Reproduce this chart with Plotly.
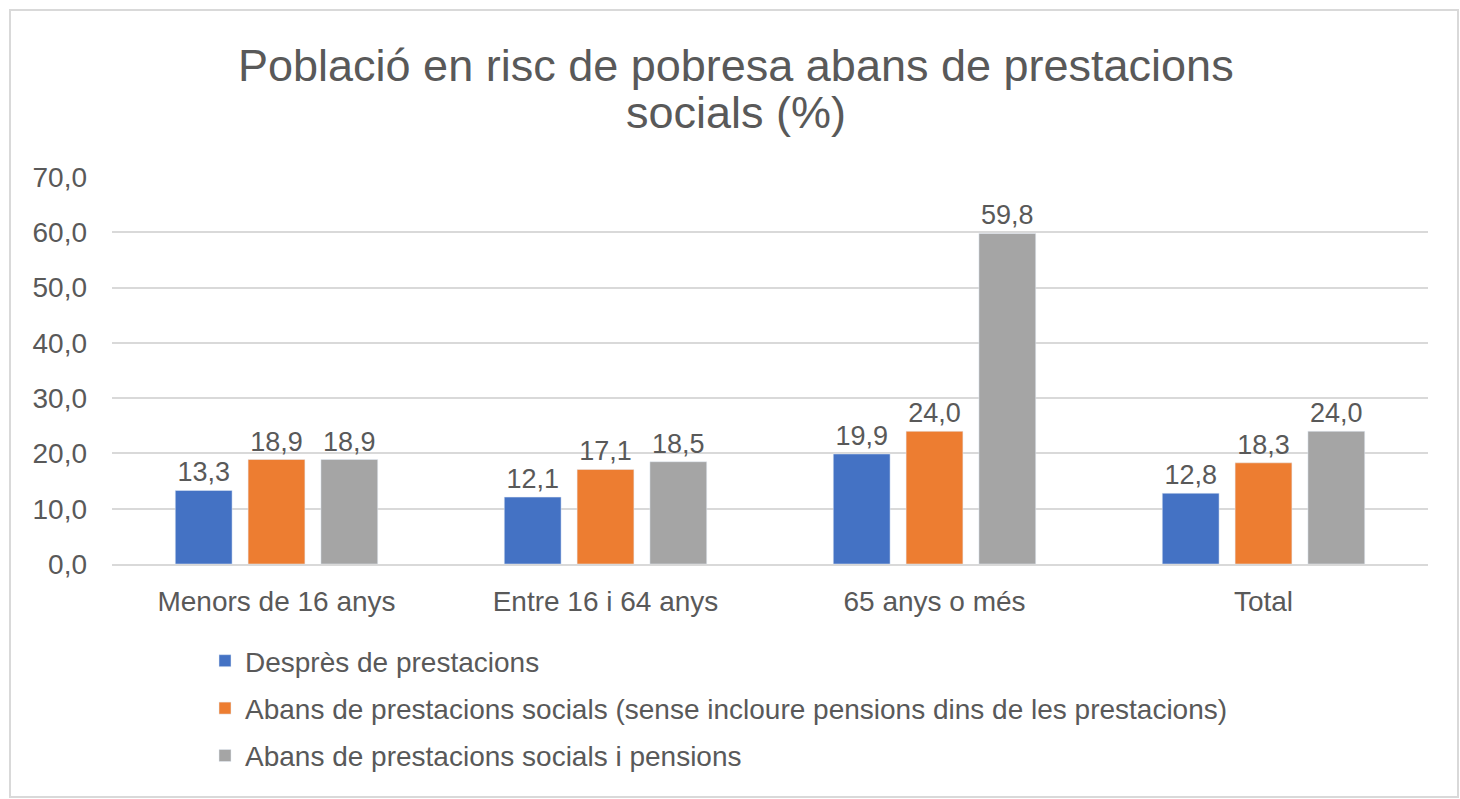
import plotly.graph_objects as go

categories = ["Menors de 16 anys", "Entre 16 i 64 anys", "65 anys o més", "Total"]
series_names = [
    "Desprès de prestacions",
    "Abans de prestacions socials (sense incloure pensions dins de les prestacions)",
    "Abans de prestacions socials i pensions",
]
despres = [13.3, 12.1, 19.9, 12.8]
abans_sense = [18.9, 17.1, 24.0, 18.3]
abans_pensions = [18.9, 18.5, 59.8, 24.0]
colors = ["#4472C4", "#ED7D31", "#A5A5A5"]
title_lines = ["Població en risc de pobresa abans de prestacions", "socials (%)"]

L, R, T, B = 112, 1428, 177, 564
W, H = 1460, 799
pw, ph = R - L, B - T

fig = go.Figure()
for i, (name, vals) in enumerate(zip(series_names, [despres, abans_sense, abans_pensions])):
    fig.add_trace(go.Bar(
        x=categories, y=vals, name=name, marker_color=colors[i],
        text=vals, texttemplate="%{y:.1f}", textposition="outside",
        textfont=dict(size=27, color="#595959"), cliponaxis=False,
        legendgroup=f"g{i}",
    ))

title_centers = [65, 112]
annotations = [
    dict(text=t, xref="paper", yref="paper", x=(736 - L) / pw, y=(B - yc) / ph,
         xanchor="center", yanchor="middle", showarrow=False,
         font=dict(size=45, color="#595959"))
    for t, yc in zip(title_lines, title_centers)
]

fig.update_layout(
    width=W, height=H,
    margin=dict(l=L, r=W - R, t=T, b=H - B, autoexpand=False),
    paper_bgcolor="white", plot_bgcolor="white",
    font=dict(family="Liberation Sans, Arial, sans-serif", color="#595959"),
    separators=",.",
    annotations=annotations,
    barmode="group", bargap=0.336, bargroupgap=0.22,
    showlegend=True,
    legend=dict(x=(205 - L) / pw, y=(B - 636) / ph, xanchor="left", yanchor="top",
                font=dict(size=28, color="#595959"), traceorder="grouped",
                tracegroupgap=8, itemwidth=30, bgcolor="rgba(0,0,0,0)"),
    yaxis=dict(range=[0, 70], dtick=10, tickformat=".1f", showgrid=True,
               gridcolor="#D9D9D9", gridwidth=1.5, zeroline=False,
               tickfont=dict(size=28, color="#595959"), ticks="", ticklen=0,
               ticklabelstandoff=24, showline=False),
    xaxis=dict(showline=True, linecolor="#D9D9D9", linewidth=1.5,
               tickfont=dict(size=28, color="#595959"), ticks="",
               ticklabelstandoff=12),
    shapes=[dict(type="rect", xref="paper", yref="paper",
                 x0=(10 - L) / pw, x1=(1458 - L) / pw,
                 y0=(B - 797) / ph, y1=(B - 10) / ph,
                 line=dict(color="#D9D9D9", width=2), layer="below")],
)

fig.write_html("out.html", config={"displayModeBar": False},
               post_script="document.body.style.margin='0';")
